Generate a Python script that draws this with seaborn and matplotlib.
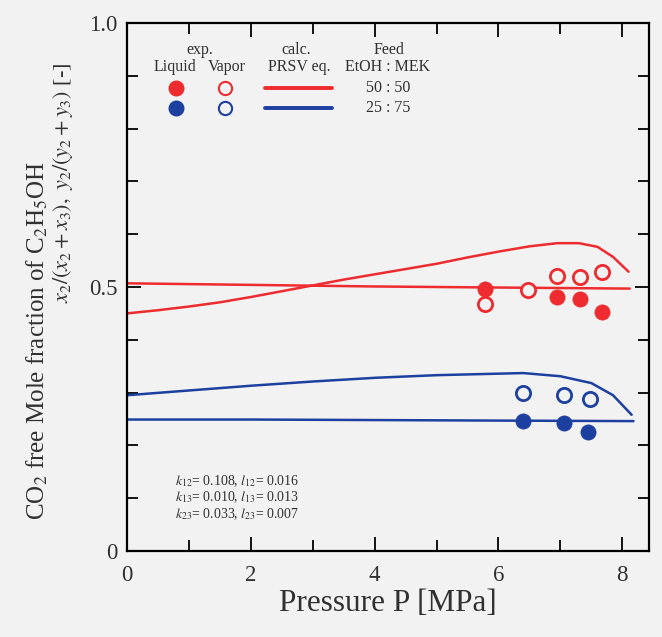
import matplotlib
matplotlib.use("Agg")
import matplotlib.pyplot as plt
from matplotlib.lines import Line2D
import seaborn as sns
import pandas as pd

# ---- data -------------------------------------------------------------
# Feed EtOH:MEK = 50:50 (red)
p_liq_calc_5050 = [0.0, 2.0, 4.0, 6.0, 8.12]
x_liq_calc_5050 = [0.507, 0.504, 0.501, 0.499, 0.497]
p_vap_calc_5050 = [0.0, 0.5, 1.0, 1.5, 2.0, 2.5, 3.0, 3.5, 4.0, 4.5, 5.0,
                   5.5, 6.0, 6.5, 6.95, 7.3, 7.6, 7.85, 8.1]
y_vap_calc_5050 = [0.450, 0.456, 0.463, 0.471, 0.481, 0.492, 0.503, 0.514,
                   0.524, 0.534, 0.544, 0.556, 0.567, 0.577, 0.583, 0.583,
                   0.576, 0.557, 0.529]
p_liq_exp_5050 = [5.78, 6.95, 7.31, 7.67]
x_liq_exp_5050 = [0.497, 0.482, 0.477, 0.453]
p_vap_exp_5050 = [5.79, 6.48, 6.95, 7.31, 7.67]
y_vap_exp_5050 = [0.468, 0.494, 0.521, 0.518, 0.529]

# Feed EtOH:MEK = 25:75 (blue)
p_liq_calc_2575 = [0.0, 2.0, 4.0, 6.0, 8.18]
x_liq_calc_2575 = [0.249, 0.249, 0.248, 0.247, 0.246]
p_vap_calc_2575 = [0.0, 1.0, 2.0, 3.0, 4.0, 5.0, 5.7, 6.4, 7.0, 7.5,
                   7.85, 8.15]
y_vap_calc_2575 = [0.295, 0.304, 0.313, 0.321, 0.328, 0.333, 0.335, 0.337,
                   0.331, 0.318, 0.295, 0.258]
p_liq_exp_2575 = [6.39, 7.06, 7.45]
x_liq_exp_2575 = [0.247, 0.243, 0.226]
p_vap_exp_2575 = [6.39, 7.06, 7.48]
y_vap_exp_2575 = [0.299, 0.295, 0.287]

feeds = ["50 : 50", "25 : 75"]
params = ["$k_{12}$= 0.108, $l_{12}$= 0.016",
          "$k_{13}$= 0.010, $l_{13}$= 0.013",
          "$k_{23}$= 0.033, $l_{23}$= 0.007"]

RED = "#ee2b2f"
BLUE = "#1c3fa0"
BG = "#f3f2f3"
INK = "#303030"

# ---- style ------------------------------------------------------------
sns.set_theme(style="ticks")
plt.rcParams["font.family"] = ["Liberation Serif", "DejaVu Serif"]
plt.rcParams["mathtext.fontset"] = "stix"

fig = plt.figure(figsize=(6.62, 6.37), dpi=100, facecolor=BG)
ax = fig.add_axes([0.1918, 0.135, 0.7885, 0.8289], facecolor=BG)


def curve(p, v):
    return pd.DataFrame({"P": p, "v": v})


for p, v, c in [(p_liq_calc_5050, x_liq_calc_5050, RED),
                (p_vap_calc_5050, y_vap_calc_5050, RED),
                (p_liq_calc_2575, x_liq_calc_2575, BLUE),
                (p_vap_calc_2575, y_vap_calc_2575, BLUE)]:
    sns.lineplot(data=curve(p, v), x="P", y="v", color=c, lw=1.8,
                 sort=False, estimator=None, ax=ax, legend=False)

for p, v, c in [(p_liq_exp_5050, x_liq_exp_5050, RED),
                (p_liq_exp_2575, x_liq_exp_2575, BLUE)]:
    sns.scatterplot(data=curve(p, v), x="P", y="v", color=c, s=120,
                    edgecolor=c, linewidth=0.5, ax=ax, legend=False, zorder=4)

for p, v, c in [(p_vap_exp_5050, y_vap_exp_5050, RED),
                (p_vap_exp_2575, y_vap_exp_2575, BLUE)]:
    sns.scatterplot(data=curve(p, v), x="P", y="v", s=105, facecolor=BG,
                    edgecolor=c, linewidth=2.0, ax=ax, legend=False, zorder=4)

# ---- axes -------------------------------------------------------------
ax.set_xlim(0, 8.43)
ax.set_ylim(0, 1.0)
ax.set_xticks([0, 2, 4, 6, 8])
ax.set_xticks([1, 3, 5, 7], minor=True)
ax.set_yticks([0, 0.5, 1.0])
ax.set_yticklabels(["0", "0.5", "1.0"])
ax.set_yticks([0.1, 0.2, 0.3, 0.4, 0.6, 0.7, 0.8, 0.9], minor=True)
ax.tick_params(which="both", direction="in", top=True, right=True,
               width=1.3, color="black")
ax.tick_params(which="major", length=10, labelsize=16.5, pad=10)
ax.tick_params(which="minor", length=8)
ax.tick_params(axis="y", which="major", pad=7)
for s in ax.spines.values():
    s.set_linewidth(1.6)
    s.set_color("black")
for t in ax.get_xticklabels() + ax.get_yticklabels():
    t.set_color(INK)

ax.set_xlabel("Pressure P [MPa]", fontsize=22.5, color=INK, labelpad=2)
ax.set_ylabel("")

fig.text(0.056, 0.465, "CO$_2$ free Mole fraction of C$_2$H$_5$OH",
         rotation=90, ha="center", va="center", fontsize=18, color=INK)
fig.text(0.095, 0.713, r"$x_2/(x_2+x_3),\ y_2/(y_2+y_3)$ [-]",
         rotation=90, ha="center", va="center", fontsize=16, color=INK)

# ---- in-axes key --------------------------------------------------------
kw = dict(transform=ax.transAxes, ha="center", va="center", fontsize=11.5,
          color=INK)
ax.text(0.140, 0.948, "exp.", **kw)
ax.text(0.092, 0.916, "Liquid", **kw)
ax.text(0.192, 0.916, "Vapor", **kw)
ax.text(0.324, 0.948, "calc.", **kw)
ax.text(0.330, 0.916, "PRSV eq.", **kw)
ax.text(0.502, 0.948, "Feed", **kw)
ax.text(0.500, 0.916, "EtOH : MEK", **kw)
for row_y, c, feed in [(0.877, RED, feeds[0]), (0.839, BLUE, feeds[1])]:
    ax.add_line(Line2D([0.094], [row_y], transform=ax.transAxes, marker="o",
                       ms=10.5, color=c, mec=c, ls="none"))
    ax.add_line(Line2D([0.188], [row_y], transform=ax.transAxes, marker="o",
                       ms=9.5, mfc=BG, mec=c, mew=1.5, ls="none"))
    ax.add_line(Line2D([0.264, 0.393], [row_y, row_y], transform=ax.transAxes,
                       color=c, lw=2.8))
    ax.text(0.500, row_y, feed, **kw)

for i, line in enumerate(params):
    ax.text(0.092, 0.133 - 0.032 * i, line, transform=ax.transAxes,
            ha="left", va="center", fontsize=10, color=INK)

fig.savefig("out.png", dpi=100, facecolor=BG)
